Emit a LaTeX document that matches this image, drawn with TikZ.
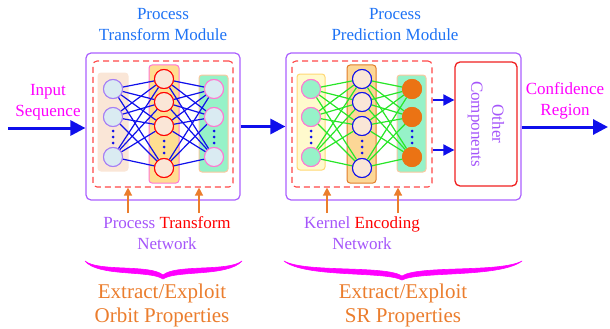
\documentclass[tikz,border=0pt]{standalone}
\usepackage{fontspec}
\setmainfont{Liberation Serif}
\usetikzlibrary{arrows.meta}
\definecolor{titleblue}{RGB}{30,115,245}
\definecolor{mag}{RGB}{255,0,255}
\definecolor{netpurple}{RGB}{165,85,250}
\definecolor{modpurple}{RGB}{170,95,255}
\definecolor{dashred}{RGB}{255,70,70}
\definecolor{boxred}{RGB}{240,30,30}
\definecolor{txtorange}{RGB}{235,125,45}
\definecolor{linkblue}{RGB}{15,15,235}
\definecolor{linkgreen}{RGB}{40,230,40}
\definecolor{peach}{RGB}{250,230,215}
\definecolor{lblue}{RGB}{218,235,242}
\definecolor{lavender}{RGB}{165,125,245}
\definecolor{gold}{RGB}{255,222,145}
\definecolor{pinkb}{RGB}{255,120,210}
\definecolor{aqua}{RGB}{150,242,200}
\definecolor{peachb}{RGB}{250,200,160}
\definecolor{lyellow}{RGB}{255,250,205}
\definecolor{yellowb}{RGB}{255,215,115}
\definecolor{orangef}{RGB}{252,215,150}
\definecolor{orangeb}{RGB}{225,125,40}
\definecolor{dotorange}{RGB}{235,115,20}
\begin{document}
\begin{tikzpicture}[x=1pt,y=-1pt,
  lbl/.style={font=\fontsize{17}{21}\selectfont, align=center, inner sep=0pt},
  biglbl/.style={font=\fontsize{21}{24}\selectfont, align=center, inner sep=0pt, text=txtorange},
  neuron/.style={circle, minimum size=19pt, inner sep=0pt, line width=1pt, draw},
  colbox/.style={rectangle, rounded corners=3pt, line width=1pt, draw, inner sep=0pt},
  modbox/.style={rectangle, draw=modpurple, rounded corners=5pt, line width=1.2pt, inner sep=0pt},
  dashbox/.style={rectangle, draw=dashred, dash pattern=on 6pt off 4pt, line width=1.1pt, rounded corners=4pt, inner sep=0pt},
  dotnode/.style={circle, fill=linkblue, minimum size=3pt, inner sep=0pt},
  bigarrow/.style={draw=linkblue, line width=3pt, -{Triangle[length=15pt,width=15pt]}},
  smallarrow/.style={draw=linkblue, line width=2pt, -{Triangle[length=11pt,width=11pt]}},
  oarrow/.style={draw=txtorange, line width=1.3pt, -{Triangle[length=8pt,width=8pt]}},
  bluelink/.style={draw=linkblue, line width=1.2pt},
  greenlink/.style={draw=linkgreen, line width=1.2pt},
  bracestyle/.style={fill=mag, draw=mag, line width=0.6pt, line join=round}
]
\useasboundingbox (0,0) rectangle (610,329);

% ---------- modules ----------
\node[modbox, minimum width=154pt, minimum height=147pt] (mod1) at (163,126.5) {};
\node[modbox, minimum width=235pt, minimum height=147pt] (mod2) at (403.5,126.5) {};
\node[dashbox, minimum width=140pt, minimum height=126pt] (d1) at (163,124) {};
\node[dashbox, minimum width=140pt, minimum height=126pt] (d2) at (362,124) {};

% ---------- left module columns ----------
\node[colbox, draw=peach, fill=peach, minimum width=30pt, minimum height=98pt] (c1) at (113,122) {};
\node[colbox, draw=pinkb, fill=gold, minimum width=30pt, minimum height=118pt] (c2) at (164,124) {};
\node[colbox, draw=peachb, fill=aqua, minimum width=29pt, minimum height=97pt] (c3) at (213.5,123.5) {};

\foreach \n/\y in {1/89,2/117,3/157}
  \node[neuron, draw=lavender, fill=lblue] (L\n) at (113,\y) {};
\foreach \n/\y in {1/79,2/102,3/126,4/168}
  \node[neuron, draw=red, fill=peach] (M\n) at (164,\y) {};
\foreach \n/\y in {1/89,2/117,3/157}
  \node[neuron, draw=pinkb, fill=lblue] (R\n) at (214,\y) {};
\foreach \y [count=\k] in {131,137,143} {
  \node[dotnode] (ld\k) at (113,\y) {};
  \node[dotnode] (rd\k) at (214,\y) {};
}
\foreach \y [count=\k] in {141,147,153}
  \node[dotnode] (md\k) at (164,\y) {};

\foreach \i in {1,2,3}
  \foreach \j in {1,2,3,4} {
    \draw[bluelink] (L\i) -- (M\j);
    \draw[bluelink] (M\j) -- (R\i);
  }

% ---------- right module columns ----------
\node[colbox, draw=yellowb, fill=lyellow, minimum width=28pt, minimum height=96pt] (e1) at (311,122) {};
\node[colbox, draw=orangeb, fill=orangef, minimum width=29pt, minimum height=118pt] (e2) at (361.5,124) {};
\node[colbox, draw=peachb, fill=aqua, minimum width=29pt, minimum height=97pt] (e3) at (411.5,123.5) {};

\foreach \n/\y in {1/89,2/117,3/157}
  \node[neuron, draw=pinkb, fill=aqua] (P\n) at (311,\y) {};
\foreach \n/\y in {1/79,2/102,3/126,4/168}
  \node[neuron, draw=linkblue, fill=peach] (Q\n) at (362,\y) {};
\foreach \n/\y in {1/89,2/117,3/157}
  \node[neuron, draw=dotorange, fill=dotorange] (S\n) at (412,\y) {};
\foreach \y [count=\k] in {131,137,143} {
  \node[dotnode] (pd\k) at (311,\y) {};
  \node[dotnode] (sd\k) at (412,\y) {};
}
\foreach \y [count=\k] in {141,147,153}
  \node[dotnode] (qd\k) at (362,\y) {};

\foreach \i in {1,2,3}
  \foreach \j in {1,2,3,4} {
    \draw[greenlink] (P\i) -- (Q\j);
    \draw[greenlink] (Q\j) -- (S\i);
  }
% redraw neurons on top of links
\foreach \n/\y in {1/89,2/117,3/157} {
  \node[neuron, draw=lavender, fill=lblue] at (113,\y) {};
  \node[neuron, draw=pinkb, fill=lblue] at (214,\y) {};
  \node[neuron, draw=pinkb, fill=aqua] at (311,\y) {};
  \node[neuron, draw=dotorange, fill=dotorange] at (412,\y) {};
}
\foreach \n/\y in {1/79,2/102,3/126,4/168} {
  \node[neuron, draw=red, fill=peach] at (164,\y) {};
  \node[neuron, draw=linkblue, fill=peach] at (362,\y) {};
}

% ---------- other components ----------
\node[rectangle, draw=boxred, line width=1.3pt, rounded corners=5pt, minimum width=62pt, minimum height=124pt] (oc) at (486,124) {};
\node[lbl, text=netpurple, rotate=-90] (octxt) at (oc.center) {Other\\Components};

% ---------- arrows ----------
\coordinate (in) at (8,128);
\coordinate (out) at (608,127);
\draw[bigarrow] (in) -- (in -| mod1.west);
\draw[bigarrow] (mod1.east) -- (mod2.west);
\draw[bigarrow] (out -| mod2.east) -- (out);
\coordinate (s1) at (432,100);
\coordinate (s2) at (432,150);
\draw[smallarrow] (s1 -| d2.east) -- (s1 -| oc.west);
\draw[smallarrow] (s2 -| d2.east) -- (s2 -| oc.west);

\coordinate (a1) at (128,213);
\coordinate (a2) at (199,213);
\coordinate (a3) at (327,213);
\coordinate (a4) at (398,213);
\foreach \a in {a1,a2} \draw[oarrow] (\a) -- (\a |- d1.south);
\foreach \a in {a3,a4} \draw[oarrow] (\a) -- (\a |- d2.south);

% ---------- texts ----------
\node[lbl, text=titleblue] (t1) at (163,25) {Process\\Transform Module};
\node[lbl, text=titleblue] (t2) at (395,25) {Process\\Prediction Module};
\node[lbl, text=mag] (inp) at (48,102) {Input\\Sequence};
\node[lbl, text=mag] (conf) at (565,101) {Confidence\\Region};
\node[lbl] (n1) at (167,233) {\textcolor{netpurple}{Process} \textcolor{red}{Transform}\\\textcolor{netpurple}{Network}};
\node[lbl] (n2) at (362,233) {\textcolor{netpurple}{Kernel} \textcolor{red}{Encoding}\\\textcolor{netpurple}{Network}};
\node[biglbl] (b1) at (162,305) {Extract/Exploit\\Orbit Properties};
\node[biglbl] (b2) at (403,305) {Extract/Exploit\\SR Properties};

% ---------- braces (tapered, filled) ----------
\path[bracestyle] (85,261) .. controls (98,272) and (150,264) .. (163,275)
   .. controls (176,264) and (228,272) .. (242,261)
   .. controls (228,277) and (176,270) .. (163,279)
   .. controls (150,270) and (98,277) .. cycle;
\path[bracestyle] (284,261) .. controls (305,273) and (385,265) .. (402,276)
   .. controls (419,265) and (500,273) .. (522,261)
   .. controls (500,278) and (419,271) .. (402,280)
   .. controls (385,271) and (305,278) .. cycle;
\end{tikzpicture}
\end{document}
